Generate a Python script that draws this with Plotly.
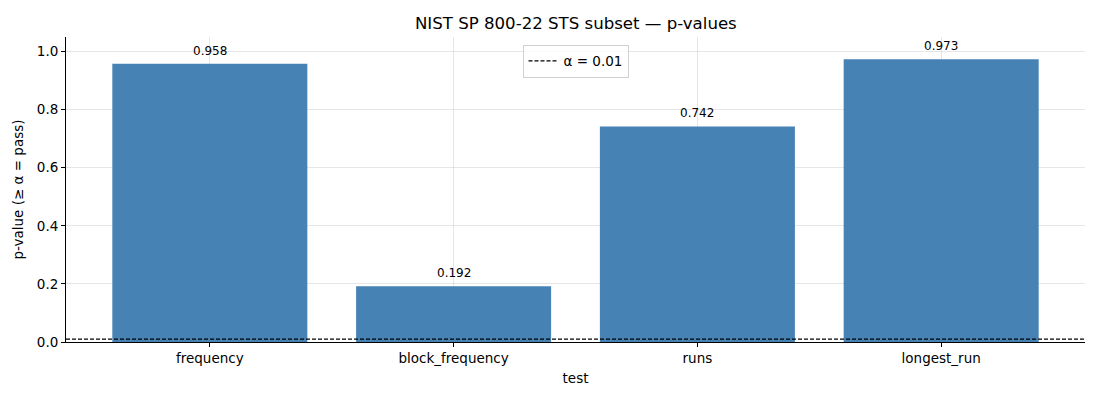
import plotly.graph_objects as go

tests = ["frequency", "block_frequency", "runs", "longest_run"]
p_values = [0.958, 0.192, 0.742, 0.973]
alpha = 0.01
labels = [f"{v:.3f}" for v in p_values]

positions = list(range(len(tests)))

fig = go.Figure()
fig.add_trace(go.Bar(
    x=positions, y=p_values, width=0.8,
    marker=dict(color="#4682B4", line=dict(width=0)),
    showlegend=False, hoverinfo="x+y",
))

for xp, yv, lab in zip(positions, p_values, labels):
    fig.add_annotation(x=xp, y=yv, text=lab, showarrow=False, xanchor="center",
                       yanchor="bottom", yshift=4, font=dict(size=12, color="black"))

fig.add_shape(type="line", xref="paper", x0=0, x1=1, yref="y", y0=alpha, y1=alpha,
              line=dict(color="black", width=1.2, dash="4px,2px"),
              showlegend=True, name=f"α = {alpha}")

axis_common = dict(
    showgrid=True, gridcolor="rgba(200,200,200,0.45)", gridwidth=1,
    showline=True, linecolor="black", linewidth=1,
    ticks="outside", ticklen=4, tickcolor="black",
    zeroline=False, layer="above traces",
    tickfont=dict(size=13.5, color="black"),
)

fig.update_layout(
    width=1100, height=400,
    margin=dict(l=66, r=15, t=37, b=58),
    paper_bgcolor="white", plot_bgcolor="white",
    font=dict(family="DejaVu Sans", size=13, color="black"),
    title=dict(text="NIST SP 800-22 STS subset — p-values", x=0.5235, xanchor="center",
               y=0.943, yanchor="middle", font=dict(size=16.6)),
    legend=dict(x=0.5, xanchor="center", y=0.975, yanchor="top",
                bordercolor="#d0d0d0", borderwidth=1, bgcolor="rgba(255,255,255,0.8)",
                font=dict(size=13.5)),
    xaxis=dict(range=[-0.59, 3.59], tickvals=positions, ticktext=tests,
               title=dict(text="test", standoff=8, font=dict(size=13.5)), **axis_common),
    yaxis=dict(range=[0, 1.05], tickvals=[0, 0.2, 0.4, 0.6, 0.8, 1.0], tickformat=".1f",
               title=dict(text="p-value (≥ α = pass)", standoff=10, font=dict(size=13.5)),
               **axis_common),
)

fig.write_html("out.html", config={"displayModeBar": False})

with open("out.html", "r", encoding="utf-8") as f:
    html = f.read()
html = html.replace("<body>", '<body style="margin:0;padding:0;">', 1)
with open("out.html", "w", encoding="utf-8") as f:
    f.write(html)
